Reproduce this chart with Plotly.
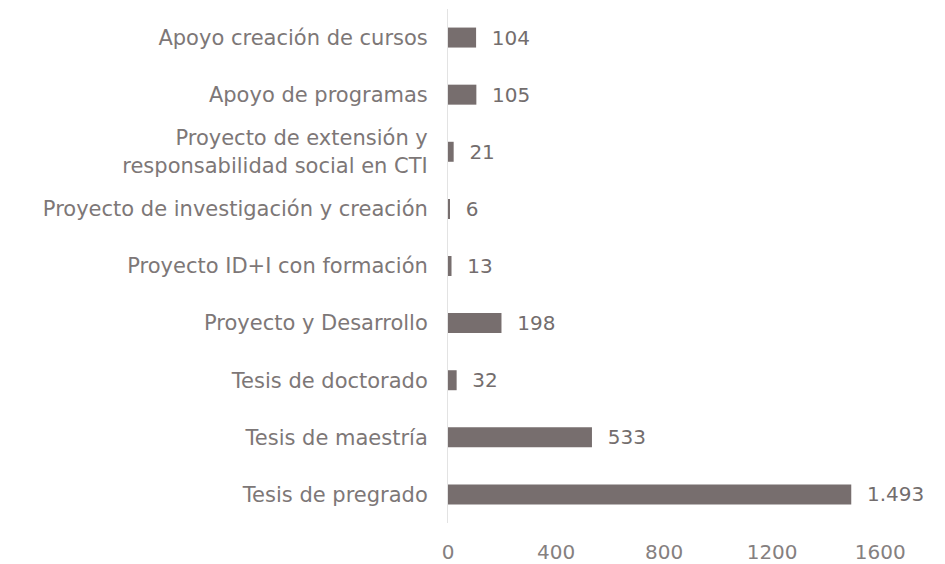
import plotly.graph_objects as go

categories = [
    "Tesis de pregrado",
    "Tesis de maestría",
    "Tesis de doctorado",
    "Proyecto y Desarrollo",
    "Proyecto ID+I con formación",
    "Proyecto de investigación y creación",
    "Proyecto de extensión y<br>responsabilidad social en CTI",
    "Apoyo de programas",
    "Apoyo creación de cursos",
]
values = [1493, 533, 32, 198, 13, 6, 21, 105, 104]
x_ticks = [0, 400, 800, 1200, 1600]

BAR_COLOR = "#776e6e"
FONT = "DejaVu Sans"
TEXT_COLOR = "#7d7777"


def fmt(v):
    return "  " + f"{v:,}".replace(",", ".")


fig = go.Figure(
    go.Bar(
        y=categories,
        x=values,
        orientation="h",
        marker=dict(color=BAR_COLOR, line=dict(width=0)),
        width=0.35,
        text=[fmt(v) for v in values],
        textposition="outside",
        constraintext="none",
        textfont=dict(family=FONT, size=20, color="#736d6d"),
        cliponaxis=False,
        showlegend=False,
    )
)

# page body adds an 8px margin, so the figure is a bit smaller than the window
fig.update_layout(
    width=937,
    height=556,
    margin=dict(l=440, r=20, t=1, b=41),
    plot_bgcolor="white",
    paper_bgcolor="white",
    font=dict(family=FONT, size=20, color=TEXT_COLOR),
)

fig.update_xaxes(
    range=[0, 1766],
    tickvals=x_ticks,
    ticktext=[str(t) for t in x_ticks],
    showgrid=False,
    zeroline=False,
    showline=False,
    ticks="",
    automargin=False,
    ticklabelstandoff=15,
    tickfont=dict(family=FONT, size=20, color="#858080"),
)
fig.update_yaxes(
    showgrid=False,
    zeroline=False,
    showline=True,
    linecolor="#e3e3e3",
    linewidth=1,
    ticks="",
    automargin=False,
    ticklabelstandoff=15,
    tickfont=dict(family=FONT, size=21, color=TEXT_COLOR),
)

fig.write_html("out.html")
